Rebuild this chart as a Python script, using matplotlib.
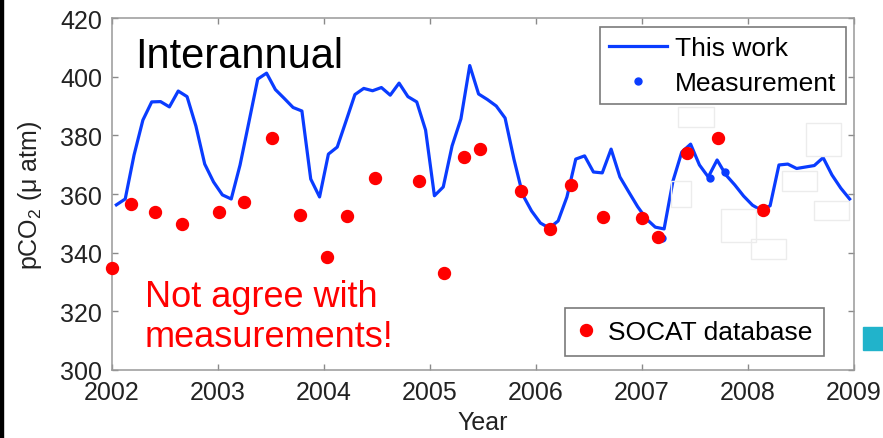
import matplotlib
matplotlib.use('Agg')
import matplotlib.pyplot as plt
from matplotlib.patches import Rectangle
import numpy as np

plt.rcParams['font.family'] = ['Liberation Sans', 'DejaVu Sans']
plt.rcParams['mathtext.fontset'] = 'custom'
plt.rcParams['mathtext.rm'] = 'Liberation Sans'
plt.rcParams['mathtext.it'] = 'Liberation Sans:italic'

# model pCO2 (uatm), monthly, Jan 2002 .. Dec 2008
this_work = [356.3, 358.3, 373.3, 385.2, 391.4, 391.5, 389.7, 395.1, 393.2, 383.2, 370.2, 364.1,
             359.7, 358.3, 369.9, 384.5, 399.2, 401.2, 395.6, 392.6, 389.5, 388.3, 365.1, 359.0,
             373.6, 376.0, 384.9, 393.9, 396.0, 395.2, 396.3, 393.7, 397.8, 393.2, 391.4, 381.8,
             359.4, 362.4, 376.4, 385.6, 403.8, 394.1, 392.2, 390.0, 385.9, 371.9, 359.7, 354.2,
             350.1, 348.4, 350.8, 359.0, 371.9, 373.0, 367.5, 367.2, 375.3, 365.8, 360.7, 355.7,
             351.5, 348.7, 348.1, 364.4, 374.3, 377.0, 369.9, 365.8, 371.6, 366.5, 363.1, 359.3,
             356.2, 354.4, 356.0, 369.9, 370.2, 368.7, 369.2, 369.7, 372.4, 366.5, 362.0, 358.3]
months = np.arange(len(this_work))
t = 2002 + (months + 0.5) / 12.0

# SOCAT database points
socat_t = [2002.00, 2002.18, 2002.41, 2002.66, 2003.01, 2003.25, 2003.51, 2003.77,
           2004.03, 2004.22, 2004.48, 2004.90, 2005.13, 2005.32, 2005.47, 2005.86,
           2006.13, 2006.33, 2006.63, 2007.00, 2007.15, 2007.42, 2007.72, 2008.14]
socat_p = [334.8, 356.6, 354.0, 349.9, 354.0, 357.2, 379.0, 352.9,
           338.6, 352.6, 365.3, 364.4, 333.1, 372.5, 375.3, 360.9,
           348.1, 363.1, 352.2, 351.8, 345.2, 374.0, 379.0, 354.5]

# measurements
meas_t = [2007.19, 2007.64, 2007.78]
meas_p = [345.0, 365.4, 367.4]

W, H = 883, 439
blue = '#0a3cff'

fig = plt.figure(figsize=(W/100, H/100), dpi=100)
ax = fig.add_axes([0.1268, 0.1549, 0.8404, 0.8018])

line, = ax.plot(t, this_work, color=blue, lw=2.3, label='This work')
meas, = ax.plot(meas_t, meas_p, 'o', color=blue, ms=5, ls='none', label='Measurement')
socat, = ax.plot(socat_t, socat_p, 'o', color='red', ms=8.6, ls='none',
                 clip_on=False, zorder=4, label='SOCAT database')

ax.set_xlim(2002, 2009)
ax.set_ylim(300, 420)
ax.set_xticks(range(2002, 2010))
ax.set_yticks(range(300, 421, 20))
ax.tick_params(direction='in', length=4.5, width=1, colors='#8a8a8a',
               labelcolor='#222222', labelsize=18, top=True, right=True, pad=7)
for s in ax.spines.values():
    s.set_color('#999999')
    s.set_linewidth(1.1)

ax.set_xlabel('Year', fontsize=18, color='#222222')
ax.xaxis.set_label_coords(0.5, -0.114)
ax.set_ylabel('pCO$_2$ (μ atm)', fontsize=18, color='#222222')
ax.yaxis.set_label_coords(-0.092, 0.5)

leg1 = ax.legend(handles=[line, meas], loc='upper right', bbox_to_anchor=(0.989, 0.974),
                 borderaxespad=0, fontsize=19, fancybox=False, edgecolor='#7a7a7a',
                 handlelength=2.2, handletextpad=0.3, borderpad=0.35, labelspacing=0.4,
                 framealpha=1)
leg1.get_frame().set_linewidth(1.2)
ax.add_artist(leg1)
leg2 = ax.legend(handles=[socat], loc='lower right', bbox_to_anchor=(0.96, 0.04),
                 borderaxespad=0, fontsize=19, fancybox=False, edgecolor='#7a7a7a',
                 handlelength=0.7, handletextpad=0.5, borderpad=0.45, framealpha=1)
leg2.get_frame().set_linewidth(1.2)

ax.text(0.031, 0.861, 'Interannual', transform=ax.transAxes, fontsize=30,
        va='baseline', ha='left', color='black')
ax.text(0.0445, 0.068, 'Not agree with\nmeasurements!', transform=ax.transAxes,
        fontsize=26, color='red', linespacing=1.2, va='baseline', ha='left')

# slide leftovers: faint boxes, left border, cyan square
ghost = [(678, 108, 714, 128), (806, 124, 841, 157), (782, 172, 817, 192),
         (814, 202, 849, 221), (721, 210, 756, 243), (751, 240, 786, 260), (671, 182, 691, 208)]
for x0, y0, x1, y1 in ghost:
    fig.add_artist(Rectangle((x0/W, 1 - y1/H), (x1-x0)/W, (y1-y0)/H, transform=fig.transFigure,
                             facecolor='none', edgecolor='#ececec', lw=1))
fig.add_artist(Rectangle((0, 0), 2.5/W, 1, transform=fig.transFigure, color='black'))
fig.add_artist(Rectangle((862.7/W, 1 - 350.7/H), 21/W, 23/H, transform=fig.transFigure,
                         color='#21b3cb'))

fig.savefig('out.png', dpi=100)
